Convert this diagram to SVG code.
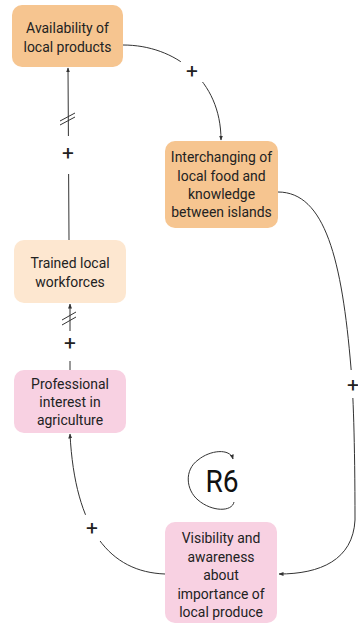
<svg xmlns="http://www.w3.org/2000/svg" width="358" height="624" viewBox="0 0 358 624">
  <style>
    .node { stroke: none; }
    .orange { fill: #f6c590; }
    .peach { fill: #fde7d0; }
    .pink { fill: #f8d1e2; }
    .label { font-family: Roboto, "Liberation Sans", sans-serif; font-size: 15.5px; fill: #222; text-anchor: middle; }
    .link { fill: none; stroke: #333; stroke-width: 1; }
    .hash { fill: none; stroke: #333; stroke-width: 1; }
    .sign { font-family: Roboto, "Liberation Sans", sans-serif; font-size: 21px; fill: #222; text-anchor: middle; }
    .mask { fill: #fff; }
    .loop { font-family: Roboto, "Liberation Sans", sans-serif; font-size: 32px; fill: #111; text-anchor: middle; }
  </style>
  <defs>
    <marker id="arrow" viewBox="0 0 10 10" refX="9" refY="5" markerWidth="5" markerHeight="5" orient="auto" markerUnits="userSpaceOnUse">
      <path d="M0,1 L10,5 L0,9 z" fill="#333"/>
    </marker>
  </defs>
  <rect width="358" height="624" fill="#fff"/>

  <!-- connectors -->
  <g id="connectors">
    <path class="link" d="M123,45 C175,45 221,80 221,140" marker-end="url(#arrow)"/>
    <path class="link" d="M278,192 C325,192 342,260 351,368 C353,390 355,440 355,520 C353,560 320,574 279,574" marker-end="url(#arrow)"/>
    <path class="link" d="M165,574 C110,572 75,530 70,434" marker-end="url(#arrow)"/>
    <path class="link" d="M70,370 L70,304" marker-end="url(#arrow)"/>
    <path class="link" d="M69,240 L68,68" marker-end="url(#arrow)"/>
    <!-- delay marks -->
    <path class="hash" d="M62,320 L76,312 M62,325 L76,317"/>
    <path class="hash" d="M60,121 L75,113 M60,125 L75,117"/>
    <!-- polarity signs with cleared background -->
    <rect class="mask" x="181" y="60" width="22" height="22"/>
    <text class="sign" x="192" y="78">+</text>
    <rect class="mask" x="343" y="370" width="20" height="28"/>
    <text class="sign" x="353" y="392">+</text>
    <rect class="mask" x="81" y="515" width="22" height="26"/>
    <text class="sign" x="92" y="535">+</text>
    <rect class="mask" x="60" y="331" width="20" height="30"/>
    <text class="sign" x="70" y="350">+</text>
    <rect class="mask" x="58" y="136" width="20" height="38"/>
    <text class="sign" x="68" y="160">+</text>
  </g>

  <!-- reinforcing loop marker -->
  <g id="loop-r6">
    <path class="link" d="M234,502 C232,512 212,512 198,500 C186,490 184,470 198,460 C210,450 230,448 233,459" marker-end="url(#arrow)"/>
    <text class="loop" transform="translate(222 0) scale(0.88 1)" x="0" y="492">R6</text>
  </g>

  <g id="availability">
    <rect class="node orange" x="12" y="5" width="111" height="62" rx="10"/>
    <text class="label" transform="translate(67.5 0) scale(0.9 1)"><tspan x="0" y="33">Availability of</tspan><tspan x="0" y="52">local products</tspan></text>
  </g>

  <g id="interchanging">
    <rect class="node orange" x="165" y="141" width="113" height="87" rx="10"/>
    <text class="label" transform="translate(221.5 0) scale(0.9 1)"><tspan x="0" y="162">Interchanging of</tspan><tspan x="0" y="181">local food and</tspan><tspan x="0" y="199">knowledge</tspan><tspan x="0" y="217">between islands</tspan></text>
  </g>

  <g id="trained">
    <rect class="node peach" x="14" y="240" width="112" height="63" rx="10"/>
    <text class="label" transform="translate(70 0) scale(0.9 1)"><tspan x="0" y="268">Trained local</tspan><tspan x="0" y="287">workforces</tspan></text>
  </g>

  <g id="professional">
    <rect class="node pink" x="14" y="370" width="112" height="63" rx="10"/>
    <text class="label" transform="translate(70 0) scale(0.9 1)"><tspan x="0" y="389">Professional</tspan><tspan x="0" y="407">interest in</tspan><tspan x="0" y="425">agriculture</tspan></text>
  </g>

  <g id="visibility">
    <rect class="node pink" x="165" y="522" width="112" height="101" rx="10"/>
    <text class="label" transform="translate(221 0) scale(0.9 1)"><tspan x="0" y="543">Visibility and</tspan><tspan x="0" y="562">awareness</tspan><tspan x="0" y="580">about</tspan><tspan x="0" y="599">importance of</tspan><tspan x="0" y="617">local produce</tspan></text>
  </g>
</svg>
